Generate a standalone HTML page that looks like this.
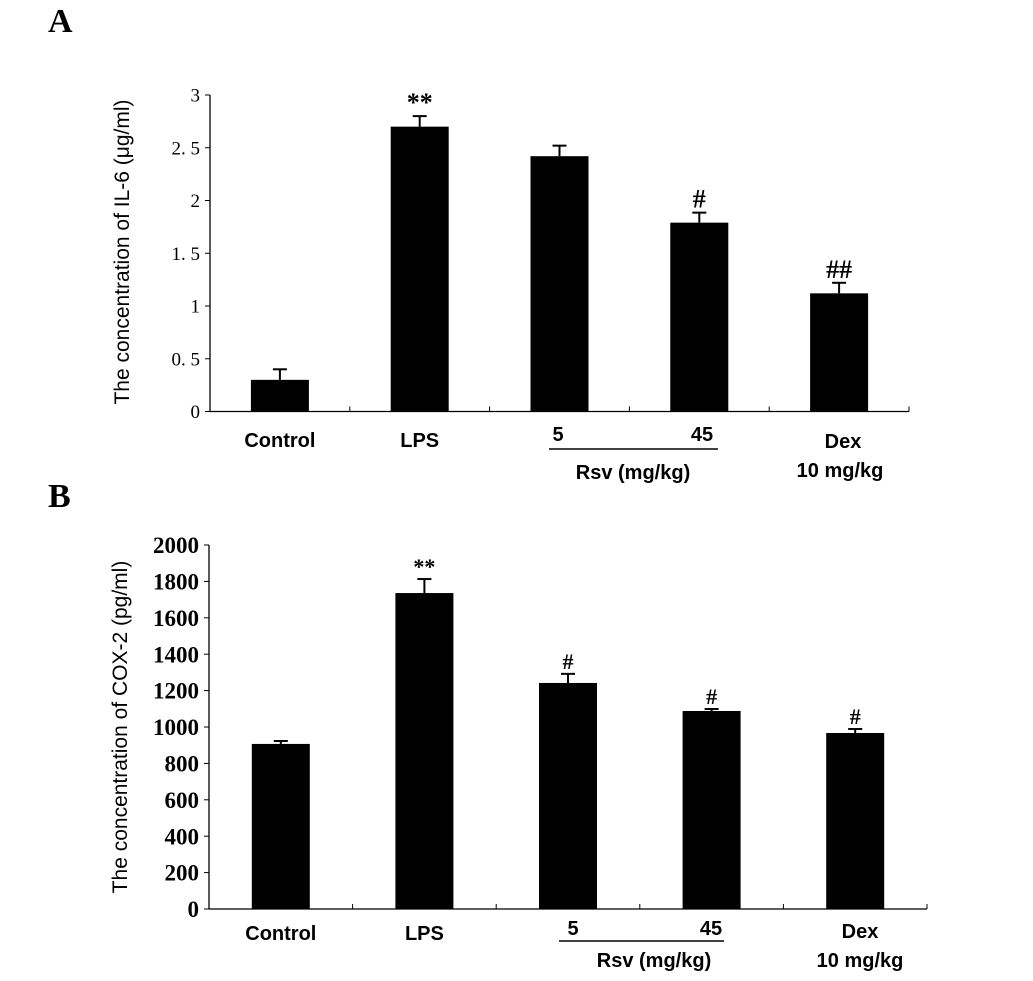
<!DOCTYPE html>
<html><head><meta charset="utf-8"><style>
body{margin:0;background:#fff}
svg{display:block}
.tk{font-family:"Liberation Serif",serif;fill:#000}
.sn{font-family:"Liberation Sans",sans-serif;fill:#000}
</style></head><body>
<svg id="chart" width="1033" height="981" viewBox="0 0 1033 981" xmlns="http://www.w3.org/2000/svg">
<text x="48" y="32" font-family="Liberation Serif,serif" font-weight="bold" font-size="34">A</text>
<text x="48" y="507" font-family="Liberation Serif,serif" font-weight="bold" font-size="34">B</text>
<g id="pa"></g>
<g id="pb"></g>
</svg>
<script>
const categories = ["Control","LPS","5","45","Dex"];
const il6Values = [0.30, 2.70, 2.42, 1.79, 1.12];
const il6Errors = [0.10, 0.10, 0.10, 0.095, 0.10];
const il6Marks = ["", "**", "", "#", "##"];
const il6Ticks = [0, 0.5, 1, 1.5, 2, 2.5, 3];
const il6TickLabels = ["0","0. 5","1","1. 5","2","2. 5","3"];
const coxValues = [907, 1736, 1242, 1088, 967];
const coxErrors = [16, 77, 50, 11, 22];
const coxMarks = ["", "**", "#", "#", "#"];
const coxTicks = [0,200,400,600,800,1000,1200,1400,1600,1800,2000];

const NS="http://www.w3.org/2000/svg";
function mk(parent,tag,attrs,name){const e=document.createElementNS(NS,tag);for(const k in attrs)e.setAttribute(k,attrs[k]);


parent.appendChild(e);return e;}

function panel(g,cfg){
  const {x0,x1,y0,yTop,vmax,vals,errs,marks,ticks,tickLabels,tickSize,tickWeight,title,titleX,titleY,markSize}=cfg;
  const sy=v=>y0-(v/vmax)*(y0-yTop);
  const cw=(x1-x0)/vals.length;
  const cx=i=>x0+cw*(i+0.5);
  mk(g,'line',{x1:x0,y1:yTop,x2:x0,y2:y0,stroke:'#000','stroke-width':1.3},'y-axis');
  mk(g,'line',{x1:x0,y1:y0,x2:x1,y2:y0,stroke:'#000','stroke-width':1.3},'x-axis');
  ticks.forEach((t,i)=>{
    mk(g,'line',{x1:x0-5,y1:sy(t),x2:x0,y2:sy(t),stroke:'#000','stroke-width':1},'y-tick');
    const tx=mk(g,'text',{x:x0-10,y:sy(t)+tickSize*0.35,'text-anchor':'end','font-size':tickSize,'font-weight':tickWeight,class:'tk'},'y-tick-label');
    tx.textContent=tickLabels?tickLabels[i]:String(t);
  });
  for(let i=1;i<=vals.length;i++){
    mk(g,'line',{x1:x0+cw*i,y1:y0,x2:x0+cw*i,y2:y0-5,stroke:'#000','stroke-width':1},'x-tick');
  }
  vals.forEach((v,i)=>{
    const c=cx(i),w=58;
    mk(g,'rect',{x:c-w/2,y:sy(v),width:w,height:y0-sy(v),fill:'#000'},'bar-'+categories[i].toLowerCase());
    const et=sy(v+errs[i]);
    mk(g,'line',{x1:c,y1:sy(v),x2:c,y2:et,stroke:'#000','stroke-width':2},'error-bar');
    mk(g,'line',{x1:c-7,y1:et,x2:c+7,y2:et,stroke:'#000','stroke-width':2},'error-cap');
    if(marks[i]){
      const m=mk(g,'text',{x:c,y:et-5,'text-anchor':'middle','font-size':markSize,'font-weight':'bold',class:'tk'},'significance-mark');
      m.textContent=marks[i];
    }
  });
  const t=mk(g,'text',{x:titleX,y:titleY,'text-anchor':'middle','font-size':21,class:'sn',transform:`rotate(-90 ${titleX} ${titleY})`},'y-axis-title');
  t.textContent=title;
  return {cx};
}

function lbl(g,x,y,txt,name){const t=mk(g,'text',{x:x,y:y,'text-anchor':'middle','font-size':20,'font-weight':'bold',class:'sn'},name);t.textContent=txt;}

const pa=document.getElementById('pa');
const A=panel(pa,{x0:210,x1:909,y0:411.5,yTop:95,vmax:3,vals:il6Values,errs:il6Errors,marks:il6Marks,ticks:il6Ticks,tickLabels:il6TickLabels,tickSize:19,tickWeight:'normal',title:"The concentration of IL-6 (μg/ml)",titleX:129,titleY:252,markSize:26});
lbl(pa,A.cx(0),447,"Control",'x-label-control');
lbl(pa,A.cx(1),447,"LPS",'x-label-lps');
lbl(pa,558,441,"5",'x-label-rsv-5');
lbl(pa,702,441,"45",'x-label-rsv-45');
mk(pa,'line',{x1:549,y1:449,x2:718,y2:449,stroke:'#000','stroke-width':1.5},'rsv-group-line');
lbl(pa,633,479,"Rsv  (mg/kg)",'rsv-group-label');
lbl(pa,843,448,"Dex",'x-label-dex');
lbl(pa,840,477,"10 mg/kg",'x-label-dex-dose');

const pb=document.getElementById('pb');
const B=panel(pb,{x0:209,x1:927,y0:909,yTop:545,vmax:2000,vals:coxValues,errs:coxErrors,marks:coxMarks,ticks:coxTicks,tickLabels:null,tickSize:23,tickWeight:'bold',title:"The concentration of COX-2 (pg/ml)",titleX:127,titleY:727,markSize:22});
lbl(pb,B.cx(0),940,"Control",'x-label-control');
lbl(pb,B.cx(1),940,"LPS",'x-label-lps');
lbl(pb,573,935,"5",'x-label-rsv-5');
lbl(pb,711,935,"45",'x-label-rsv-45');
mk(pb,'line',{x1:559,y1:941,x2:724,y2:941,stroke:'#000','stroke-width':1.5},'rsv-group-line');
lbl(pb,654,967,"Rsv (mg/kg)",'rsv-group-label');
lbl(pb,860,938,"Dex",'x-label-dex');
lbl(pb,860,967,"10 mg/kg",'x-label-dex-dose');
</script>
</body></html>
